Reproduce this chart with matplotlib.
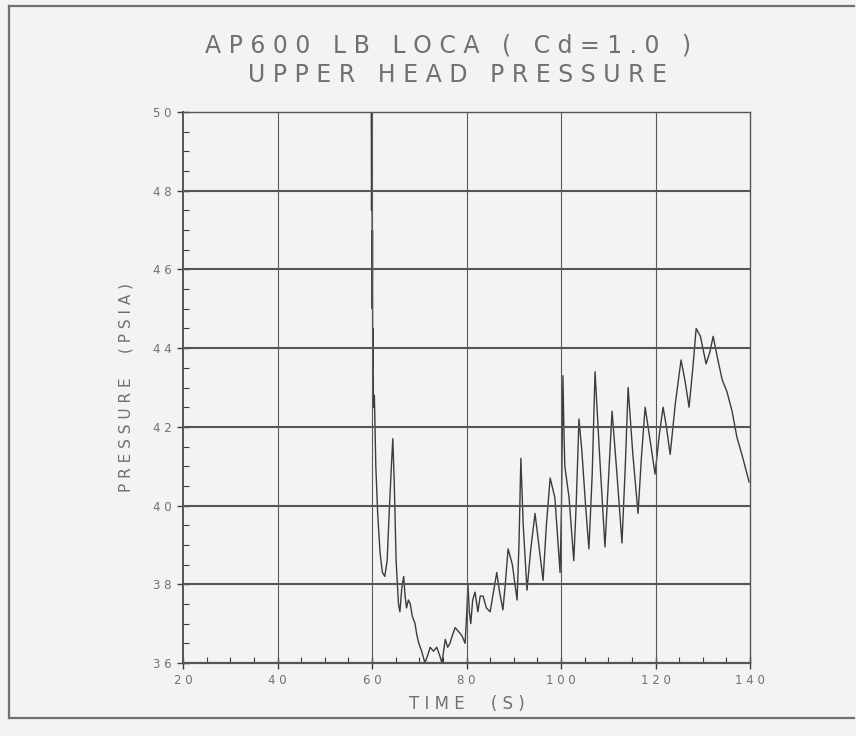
import matplotlib.pyplot as plt
from matplotlib.ticker import MultipleLocator
from matplotlib.lines import Line2D

# time (s) and upper head pressure (psia)
time = [59.8, 59.9, 60.0, 60.05, 60.1, 60.15, 60.2, 60.3, 60.5, 60.8, 61.2,
        61.7, 62.2, 62.7, 63.2, 63.7, 64.1, 64.4, 64.7, 65.1, 65.6, 65.9,
        66.3, 66.7, 67.0, 67.3, 67.7, 68.1, 68.5, 69.1, 69.5, 69.9, 70.5,
        71.2, 71.8, 72.3, 73.0, 73.7, 74.3, 74.8, 75.5, 76.0, 76.5, 77.0,
        77.6, 78.3, 79.0, 79.7, 80.1, 80.3, 80.6, 80.9, 81.3, 81.8, 82.4,
        82.9, 83.5, 84.2, 85.0, 85.7, 86.4, 87.0, 87.7, 88.2, 88.8, 89.7,
        90.7, 91.1, 91.5, 92.0, 92.8, 93.6, 94.5, 95.3, 96.2, 96.9, 97.7,
        98.7, 99.8, 100.1, 100.4, 100.6, 100.8, 101.7, 102.7, 103.2, 103.8,
        104.4, 105.2, 105.9, 106.6, 107.2, 108.2, 109.3, 110.1, 110.8, 111.9,
        112.9, 113.6, 114.2, 115.2, 116.3, 117.0, 117.8, 118.8, 119.9, 120.8,
        121.6, 122.3, 123.1, 124.2, 125.4, 126.2, 127.1, 127.9, 128.6, 129.5,
        130.7, 131.5, 132.2, 133.2, 134.1, 135.1, 136.2, 137.2, 138.5, 139.8]
pressure = [52.0, 47.5, 49.5, 45.0, 47.0, 43.5, 44.5, 42.5, 42.8, 41.0, 39.8,
            38.8, 38.3, 38.2, 38.6, 40.0, 41.0, 41.7, 40.6, 38.6, 37.5, 37.3,
            37.9, 38.2, 37.7, 37.4, 37.6, 37.5, 37.2, 37.0, 36.7, 36.5, 36.3,
            36.0, 36.2, 36.4, 36.3, 36.4, 36.2, 36.0, 36.6, 36.4, 36.5, 36.7,
            36.9, 36.8, 36.7, 36.5, 37.4, 38.0, 37.3, 37.0, 37.6, 37.8, 37.3,
            37.7, 37.7, 37.4, 37.3, 37.8, 38.3, 37.8, 37.35, 38.0, 38.9, 38.5,
            37.6, 39.0, 41.2, 39.5, 37.85, 38.9, 39.8, 39.0, 38.1, 39.5, 40.7,
            40.2, 38.3, 40.0, 43.3, 42.0, 41.0, 40.2, 38.6, 40.0, 42.2,
            41.4, 40.0, 38.9, 40.8, 43.4, 41.2, 38.95, 40.8, 42.4, 40.7,
            39.05, 41.0, 43.0, 41.3, 39.8, 41.2, 42.5, 41.7, 40.8, 41.8,
            42.5, 42.0, 41.3, 42.6, 43.7, 43.2, 42.5, 43.5, 44.5, 44.3,
            43.6, 43.9, 44.3, 43.7, 43.2, 42.9, 42.4, 41.75, 41.2, 40.6]

xticks = [20, 40, 60, 80, 100, 120, 140]
yticks = [36, 38, 40, 42, 44, 46, 48, 50]

ink = '#3c3c3c'
txt = '#707070'
paper = '#f3f3f1'

fig = plt.figure(figsize=(8.56, 7.36), dpi=100, facecolor=paper)
ax = fig.add_axes([0.2138, 0.0992, 0.6624, 0.7486], facecolor=paper)

# scanned page frame
for xs, ys in [([0.011, 0.011], [0.025, 0.992]), ([0.011, 0.998], [0.992, 0.992]),
               ([0.011, 0.998], [0.025, 0.025])]:
    fig.add_artist(Line2D(xs, ys, transform=fig.transFigure, color='#707070', lw=1.6))

ax.plot(time, pressure, color=ink, lw=1.0)

ax.set_xlim(20, 140)
ax.set_ylim(36, 50)
ax.set_xticks(xticks)
ax.set_yticks(yticks)
ax.set_xticklabels([' '.join(str(v)) for v in xticks])
ax.set_yticklabels([' '.join(str(v)) for v in yticks])
ax.xaxis.set_minor_locator(MultipleLocator(5))
ax.yaxis.set_minor_locator(MultipleLocator(0.5))
ax.tick_params(which='major', direction='inout', length=8, width=1.0, color=ink,
               labelsize=8.5, labelcolor=txt, pad=4)
ax.tick_params(which='minor', direction='in', length=4, width=0.8, color=ink)

ax.grid(False)
for v in xticks[1:-1]:
    ax.axvline(v, color='#5a5a5a', lw=0.8)
for v in yticks[1:-1]:
    ax.axhline(v, color='#555555', lw=1.5)

for s in ax.spines.values():
    s.set_color('#555555')
    s.set_linewidth(1.0)
ax.spines['bottom'].set_linewidth(1.6)
ax.spines['left'].set_linewidth(1.4)

ax.set_xlabel('T I M E     ( S )', fontsize=12, color=txt, labelpad=6)
ax.set_ylabel('P R E S S U R E     ( P S I A )', fontsize=11, color=txt, labelpad=14)

fig.text(0.523, 0.938, 'A P 6 0 0   L B   L O C A   (   C d = 1 . 0   )', ha='center',
         va='center', fontsize=17, color=txt)
fig.text(0.534, 0.898, 'U P P E R   H E A D   P R E S S U R E', ha='center',
         va='center', fontsize=17, color=txt)

fig.savefig('out.png', dpi=100, facecolor=paper)
